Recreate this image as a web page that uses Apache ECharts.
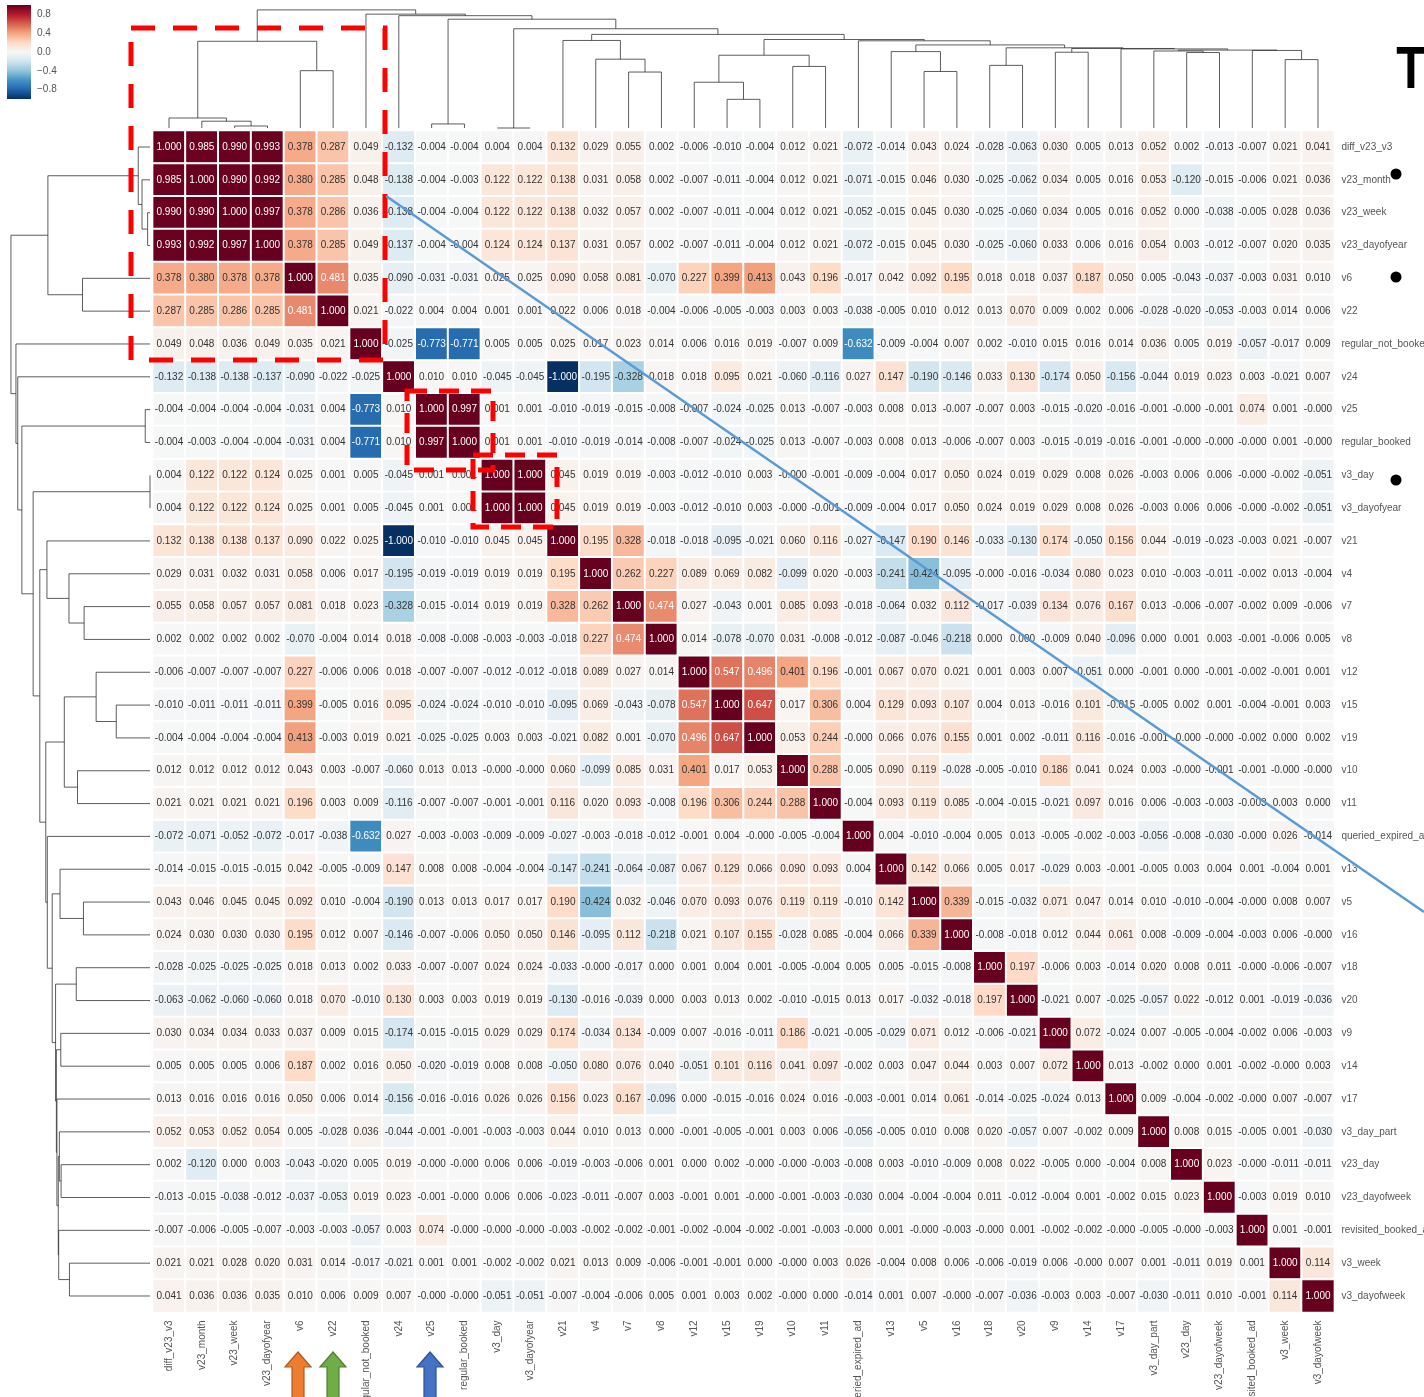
<!DOCTYPE html>
<html>
<head>
<meta charset="utf-8">
<script src="https://cdn.jsdelivr.net/npm/echarts@6/dist/echarts.min.js"></script>
<style>
  html, body { margin: 0; padding: 0; background: #ffffff; }
  #chart { width: 1424px; height: 1397px; }
</style>
</head>
<body>
<div id="chart"></div>
<script>
// Feature names, in clustered order (same order for rows and columns)
const variables = [
  'diff_v23_v3', 'v23_month', 'v23_week', 'v23_dayofyear', 'v6', 'v22',
  'regular_not_booked', 'v24', 'v25', 'regular_booked', 'v3_day', 'v3_dayofyear',
  'v21', 'v4', 'v7', 'v8', 'v12', 'v15', 'v19', 'v10', 'v11', 'queried_expired_ad',
  'v13', 'v5', 'v16', 'v18', 'v20', 'v9', 'v14', 'v17', 'v3_day_part', 'v23_day',
  'v23_dayofweek', 'revisited_booked_ad', 'v3_week', 'v3_dayofweek'
];

// Pearson correlations, one row per feature
const corrRows = [
  [1.000,0.985,0.990,0.993,0.378,0.287,0.049,-0.132,-0.004,-0.004,0.004,0.004,0.132,0.029,0.055,0.002,-0.006,-0.010,-0.004,0.012,0.021,-0.072,-0.014,0.043,0.024,-0.028,-0.063,0.030,0.005,0.013,0.052,0.002,-0.013,-0.007,0.021,0.041],
  [0.985,1.000,0.990,0.992,0.380,0.285,0.048,-0.138,-0.004,-0.003,0.122,0.122,0.138,0.031,0.058,0.002,-0.007,-0.011,-0.004,0.012,0.021,-0.071,-0.015,0.046,0.030,-0.025,-0.062,0.034,0.005,0.016,0.053,-0.120,-0.015,-0.006,0.021,0.036],
  [0.990,0.990,1.000,0.997,0.378,0.286,0.036,-0.138,-0.004,-0.004,0.122,0.122,0.138,0.032,0.057,0.002,-0.007,-0.011,-0.004,0.012,0.021,-0.052,-0.015,0.045,0.030,-0.025,-0.060,0.034,0.005,0.016,0.052,0.000,-0.038,-0.005,0.028,0.036],
  [0.993,0.992,0.997,1.000,0.378,0.285,0.049,-0.137,-0.004,-0.004,0.124,0.124,0.137,0.031,0.057,0.002,-0.007,-0.011,-0.004,0.012,0.021,-0.072,-0.015,0.045,0.030,-0.025,-0.060,0.033,0.006,0.016,0.054,0.003,-0.012,-0.007,0.020,0.035],
  [0.378,0.380,0.378,0.378,1.000,0.481,0.035,-0.090,-0.031,-0.031,0.025,0.025,0.090,0.058,0.081,-0.070,0.227,0.399,0.413,0.043,0.196,-0.017,0.042,0.092,0.195,0.018,0.018,0.037,0.187,0.050,0.005,-0.043,-0.037,-0.003,0.031,0.010],
  [0.287,0.285,0.286,0.285,0.481,1.000,0.021,-0.022,0.004,0.004,0.001,0.001,0.022,0.006,0.018,-0.004,-0.006,-0.005,-0.003,0.003,0.003,-0.038,-0.005,0.010,0.012,0.013,0.070,0.009,0.002,0.006,-0.028,-0.020,-0.053,-0.003,0.014,0.006],
  [0.049,0.048,0.036,0.049,0.035,0.021,1.000,-0.025,-0.773,-0.771,0.005,0.005,0.025,0.017,0.023,0.014,0.006,0.016,0.019,-0.007,0.009,-0.632,-0.009,-0.004,0.007,0.002,-0.010,0.015,0.016,0.014,0.036,0.005,0.019,-0.057,-0.017,0.009],
  [-0.132,-0.138,-0.138,-0.137,-0.090,-0.022,-0.025,1.000,0.010,0.010,-0.045,-0.045,-1.000,-0.195,-0.328,0.018,0.018,0.095,0.021,-0.060,-0.116,0.027,0.147,-0.190,-0.146,0.033,0.130,-0.174,0.050,-0.156,-0.044,0.019,0.023,0.003,-0.021,0.007],
  [-0.004,-0.004,-0.004,-0.004,-0.031,0.004,-0.773,0.010,1.000,0.997,0.001,0.001,-0.010,-0.019,-0.015,-0.008,-0.007,-0.024,-0.025,0.013,-0.007,-0.003,0.008,0.013,-0.007,-0.007,0.003,-0.015,-0.020,-0.016,-0.001,-0.000,-0.001,0.074,0.001,-0.000],
  [-0.004,-0.003,-0.004,-0.004,-0.031,0.004,-0.771,0.010,0.997,1.000,0.001,0.001,-0.010,-0.019,-0.014,-0.008,-0.007,-0.024,-0.025,0.013,-0.007,-0.003,0.008,0.013,-0.006,-0.007,0.003,-0.015,-0.019,-0.016,-0.001,-0.000,-0.000,-0.000,0.001,-0.000],
  [0.004,0.122,0.122,0.124,0.025,0.001,0.005,-0.045,0.001,0.001,1.000,1.000,0.045,0.019,0.019,-0.003,-0.012,-0.010,0.003,-0.000,-0.001,-0.009,-0.004,0.017,0.050,0.024,0.019,0.029,0.008,0.026,-0.003,0.006,0.006,-0.000,-0.002,-0.051],
  [0.004,0.122,0.122,0.124,0.025,0.001,0.005,-0.045,0.001,0.001,1.000,1.000,0.045,0.019,0.019,-0.003,-0.012,-0.010,0.003,-0.000,-0.001,-0.009,-0.004,0.017,0.050,0.024,0.019,0.029,0.008,0.026,-0.003,0.006,0.006,-0.000,-0.002,-0.051],
  [0.132,0.138,0.138,0.137,0.090,0.022,0.025,-1.000,-0.010,-0.010,0.045,0.045,1.000,0.195,0.328,-0.018,-0.018,-0.095,-0.021,0.060,0.116,-0.027,-0.147,0.190,0.146,-0.033,-0.130,0.174,-0.050,0.156,0.044,-0.019,-0.023,-0.003,0.021,-0.007],
  [0.029,0.031,0.032,0.031,0.058,0.006,0.017,-0.195,-0.019,-0.019,0.019,0.019,0.195,1.000,0.262,0.227,0.089,0.069,0.082,-0.099,0.020,-0.003,-0.241,-0.424,-0.095,-0.000,-0.016,-0.034,0.080,0.023,0.010,-0.003,-0.011,-0.002,0.013,-0.004],
  [0.055,0.058,0.057,0.057,0.081,0.018,0.023,-0.328,-0.015,-0.014,0.019,0.019,0.328,0.262,1.000,0.474,0.027,-0.043,0.001,0.085,0.093,-0.018,-0.064,0.032,0.112,-0.017,-0.039,0.134,0.076,0.167,0.013,-0.006,-0.007,-0.002,0.009,-0.006],
  [0.002,0.002,0.002,0.002,-0.070,-0.004,0.014,0.018,-0.008,-0.008,-0.003,-0.003,-0.018,0.227,0.474,1.000,0.014,-0.078,-0.070,0.031,-0.008,-0.012,-0.087,-0.046,-0.218,0.000,0.000,-0.009,0.040,-0.096,0.000,0.001,0.003,-0.001,-0.006,0.005],
  [-0.006,-0.007,-0.007,-0.007,0.227,-0.006,0.006,0.018,-0.007,-0.007,-0.012,-0.012,-0.018,0.089,0.027,0.014,1.000,0.547,0.496,0.401,0.196,-0.001,0.067,0.070,0.021,0.001,0.003,0.007,-0.051,0.000,-0.001,0.000,-0.001,-0.002,-0.001,0.001],
  [-0.010,-0.011,-0.011,-0.011,0.399,-0.005,0.016,0.095,-0.024,-0.024,-0.010,-0.010,-0.095,0.069,-0.043,-0.078,0.547,1.000,0.647,0.017,0.306,0.004,0.129,0.093,0.107,0.004,0.013,-0.016,0.101,-0.015,-0.005,0.002,0.001,-0.004,-0.001,0.003],
  [-0.004,-0.004,-0.004,-0.004,0.413,-0.003,0.019,0.021,-0.025,-0.025,0.003,0.003,-0.021,0.082,0.001,-0.070,0.496,0.647,1.000,0.053,0.244,-0.000,0.066,0.076,0.155,0.001,0.002,-0.011,0.116,-0.016,-0.001,-0.000,-0.000,-0.002,0.000,0.002],
  [0.012,0.012,0.012,0.012,0.043,0.003,-0.007,-0.060,0.013,0.013,-0.000,-0.000,0.060,-0.099,0.085,0.031,0.401,0.017,0.053,1.000,0.288,-0.005,0.090,0.119,-0.028,-0.005,-0.010,0.186,0.041,0.024,0.003,-0.000,-0.001,-0.001,-0.000,-0.000],
  [0.021,0.021,0.021,0.021,0.196,0.003,0.009,-0.116,-0.007,-0.007,-0.001,-0.001,0.116,0.020,0.093,-0.008,0.196,0.306,0.244,0.288,1.000,-0.004,0.093,0.119,0.085,-0.004,-0.015,-0.021,0.097,0.016,0.006,-0.003,-0.003,-0.003,0.003,0.000],
  [-0.072,-0.071,-0.052,-0.072,-0.017,-0.038,-0.632,0.027,-0.003,-0.003,-0.009,-0.009,-0.027,-0.003,-0.018,-0.012,-0.001,0.004,-0.000,-0.005,-0.004,1.000,0.004,-0.010,-0.004,0.005,0.013,-0.005,-0.002,-0.003,-0.056,-0.008,-0.030,-0.000,0.026,-0.014],
  [-0.014,-0.015,-0.015,-0.015,0.042,-0.005,-0.009,0.147,0.008,0.008,-0.004,-0.004,-0.147,-0.241,-0.064,-0.087,0.067,0.129,0.066,0.090,0.093,0.004,1.000,0.142,0.066,0.005,0.017,-0.029,0.003,-0.001,-0.005,0.003,0.004,0.001,-0.004,0.001],
  [0.043,0.046,0.045,0.045,0.092,0.010,-0.004,-0.190,0.013,0.013,0.017,0.017,0.190,-0.424,0.032,-0.046,0.070,0.093,0.076,0.119,0.119,-0.010,0.142,1.000,0.339,-0.015,-0.032,0.071,0.047,0.014,0.010,-0.010,-0.004,-0.000,0.008,0.007],
  [0.024,0.030,0.030,0.030,0.195,0.012,0.007,-0.146,-0.007,-0.006,0.050,0.050,0.146,-0.095,0.112,-0.218,0.021,0.107,0.155,-0.028,0.085,-0.004,0.066,0.339,1.000,-0.008,-0.018,0.012,0.044,0.061,0.008,-0.009,-0.004,-0.003,0.006,-0.000],
  [-0.028,-0.025,-0.025,-0.025,0.018,0.013,0.002,0.033,-0.007,-0.007,0.024,0.024,-0.033,-0.000,-0.017,0.000,0.001,0.004,0.001,-0.005,-0.004,0.005,0.005,-0.015,-0.008,1.000,0.197,-0.006,0.003,-0.014,0.020,0.008,0.011,-0.000,-0.006,-0.007],
  [-0.063,-0.062,-0.060,-0.060,0.018,0.070,-0.010,0.130,0.003,0.003,0.019,0.019,-0.130,-0.016,-0.039,0.000,0.003,0.013,0.002,-0.010,-0.015,0.013,0.017,-0.032,-0.018,0.197,1.000,-0.021,0.007,-0.025,-0.057,0.022,-0.012,0.001,-0.019,-0.036],
  [0.030,0.034,0.034,0.033,0.037,0.009,0.015,-0.174,-0.015,-0.015,0.029,0.029,0.174,-0.034,0.134,-0.009,0.007,-0.016,-0.011,0.186,-0.021,-0.005,-0.029,0.071,0.012,-0.006,-0.021,1.000,0.072,-0.024,0.007,-0.005,-0.004,-0.002,0.006,-0.003],
  [0.005,0.005,0.005,0.006,0.187,0.002,0.016,0.050,-0.020,-0.019,0.008,0.008,-0.050,0.080,0.076,0.040,-0.051,0.101,0.116,0.041,0.097,-0.002,0.003,0.047,0.044,0.003,0.007,0.072,1.000,0.013,-0.002,0.000,0.001,-0.002,-0.000,0.003],
  [0.013,0.016,0.016,0.016,0.050,0.006,0.014,-0.156,-0.016,-0.016,0.026,0.026,0.156,0.023,0.167,-0.096,0.000,-0.015,-0.016,0.024,0.016,-0.003,-0.001,0.014,0.061,-0.014,-0.025,-0.024,0.013,1.000,0.009,-0.004,-0.002,-0.000,0.007,-0.007],
  [0.052,0.053,0.052,0.054,0.005,-0.028,0.036,-0.044,-0.001,-0.001,-0.003,-0.003,0.044,0.010,0.013,0.000,-0.001,-0.005,-0.001,0.003,0.006,-0.056,-0.005,0.010,0.008,0.020,-0.057,0.007,-0.002,0.009,1.000,0.008,0.015,-0.005,0.001,-0.030],
  [0.002,-0.120,0.000,0.003,-0.043,-0.020,0.005,0.019,-0.000,-0.000,0.006,0.006,-0.019,-0.003,-0.006,0.001,0.000,0.002,-0.000,-0.000,-0.003,-0.008,0.003,-0.010,-0.009,0.008,0.022,-0.005,0.000,-0.004,0.008,1.000,0.023,-0.000,-0.011,-0.011],
  [-0.013,-0.015,-0.038,-0.012,-0.037,-0.053,0.019,0.023,-0.001,-0.000,0.006,0.006,-0.023,-0.011,-0.007,0.003,-0.001,0.001,-0.000,-0.001,-0.003,-0.030,0.004,-0.004,-0.004,0.011,-0.012,-0.004,0.001,-0.002,0.015,0.023,1.000,-0.003,0.019,0.010],
  [-0.007,-0.006,-0.005,-0.007,-0.003,-0.003,-0.057,0.003,0.074,-0.000,-0.000,-0.000,-0.003,-0.002,-0.002,-0.001,-0.002,-0.004,-0.002,-0.001,-0.003,-0.000,0.001,-0.000,-0.003,-0.000,0.001,-0.002,-0.002,-0.000,-0.005,-0.000,-0.003,1.000,0.001,-0.001],
  [0.021,0.021,0.028,0.020,0.031,0.014,-0.017,-0.021,0.001,0.001,-0.002,-0.002,0.021,0.013,0.009,-0.006,-0.001,-0.001,0.000,-0.000,0.003,0.026,-0.004,0.008,0.006,-0.006,-0.019,0.006,-0.000,0.007,0.001,-0.011,0.019,0.001,1.000,0.114],
  [0.041,0.036,0.036,0.035,0.010,0.006,0.009,0.007,-0.000,-0.000,-0.051,-0.051,-0.007,-0.004,-0.006,0.005,0.001,0.003,0.002,-0.000,0.000,-0.014,0.001,0.007,-0.000,-0.007,-0.036,-0.003,0.003,-0.007,-0.030,-0.011,0.010,-0.001,0.114,1.000]
];

// Colour-bar tick values
const colorbarTicks = [-0.8, -0.4, 0.0, 0.4, 0.8];

// RdBu reversed (blue = -1 ... red = +1)
const RDBU_R = ['#053061', '#2166ac', '#4393c3', '#92c5de', '#d1e5f0', '#f7f7f7',
                '#fddbc7', '#f4a582', '#d6604d', '#b2182b', '#67001f'];

const FONT = '"Liberation Sans", Arial, Helvetica, sans-serif';
const N = variables.length;

function hexToRgb(h) {
  return [parseInt(h.slice(1, 3), 16), parseInt(h.slice(3, 5), 16), parseInt(h.slice(5, 7), 16)];
}
function cmap(v) {
  const t = Math.max(0, Math.min(1, (v + 1) / 2)) * (RDBU_R.length - 1);
  const i = Math.min(Math.floor(t), RDBU_R.length - 2);
  const f = t - i;
  const a = hexToRgb(RDBU_R[i]), b = hexToRgb(RDBU_R[i + 1]);
  return a.map((c, k) => c + (b[k] - c) * f);
}
function luminance(rgb) {
  const lin = rgb.map(c => {
    c /= 255;
    return c <= 0.03928 ? c / 12.92 : Math.pow((c + 0.055) / 1.055, 2.4);
  });
  return 0.2126 * lin[0] + 0.7152 * lin[1] + 0.0722 * lin[2];
}
function fmt(v) {
  const neg = v < 0 || Object.is(v, -0);
  return (neg ? '-' : '') + Math.abs(v).toFixed(3);
}

// Average-linkage (UPGMA) clustering of the correlation rows, euclidean metric.
// Returns merges as [childA, childB, distance]; ids >= N are earlier merges.
function averageLinkage(rows) {
  const n = rows.length;
  const euclid = (a, b) => Math.sqrt(a.reduce((s, v, k) => s + (v - b[k]) * (v - b[k]), 0));
  const size = [], dm = [];
  for (let i = 0; i < n; i++) {
    size[i] = 1;
    dm[i] = [];
    for (let j = 0; j < n; j++) dm[i][j] = euclid(rows[i], rows[j]);
  }
  let active = rows.map((_, i) => i);
  const Z = [];
  for (let step = 0; step < n - 1; step++) {
    let best = Infinity, bi = -1, bj = -1;
    for (let x = 0; x < active.length; x++) {
      for (let y = x + 1; y < active.length; y++) {
        const a = active[x], b = active[y];
        if (dm[a][b] < best) { best = dm[a][b]; bi = a; bj = b; }
      }
    }
    const id = n + step;
    size[id] = size[bi] + size[bj];
    dm[id] = [];
    active = active.filter(c => c !== bi && c !== bj);
    for (const c of active) {
      const d = (size[bi] * dm[bi][c] + size[bj] * dm[bj][c]) / size[id];
      dm[id][c] = d;
      dm[c][id] = d;
    }
    active.push(id);
    Z.push([Math.min(bi, bj), Math.max(bi, bj), best]);
  }
  return Z;
}
const linkage = averageLinkage(corrRows);

// Dendrogram U-links: [posA, posB, heightA, heightB, mergeHeight]
function dendroSegments() {
  const pos = [], hgt = [];
  for (let i = 0; i < N; i++) { pos[i] = i + 0.5; hgt[i] = 0; }
  return linkage.map((m, k) => {
    const [a, b, h] = m;
    const id = N + k;
    pos[id] = (pos[a] + pos[b]) / 2;
    hgt[id] = h;
    return [pos[a], pos[b], hgt[a], hgt[b], h];
  });
}
const segments = dendroSegments();
const maxH = Math.max(...linkage.map(m => m[2]));

// Heatmap cells
const cells = [];
for (let r = 0; r < N; r++) {
  for (let c = 0; c < N; c++) {
    const v = corrRows[r][c];
    cells.push({
      value: [c, r, v],
      label: { color: luminance(cmap(v)) > 0.408 ? '#333333' : '#ffffff' }
    });
  }
}

const GRID = { left: 152.6, top: 130.6, size: 1181.8 };
const LINE_COLOR = '#333333';

const chart = echarts.init(document.getElementById('chart'), null, { renderer: 'canvas' });

// Annotation overlay (highlight boxes, pointers, marks)
function arrow(cx, top, fill, stroke) {
  return {
    type: 'polygon', z: 100,
    shape: { points: [[cx, top], [cx + 13, top + 15], [cx + 6, top + 15], [cx + 6, 1402],
                      [cx - 6, 1402], [cx - 6, top + 15], [cx - 13, top + 15]] },
    style: { fill: fill, stroke: stroke, lineWidth: 1.2 }
  };
}
const redDash = { fill: 'none', stroke: '#ff0000', lineWidth: 5, lineDash: [24, 18] };
const redDashSmall = { fill: 'none', stroke: '#ff0000', lineWidth: 5, lineDash: [20, 12] };
const annotations = [
  { type: 'rect', z: 100, shape: { x: 131, y: 28, width: 254, height: 332 }, style: redDash },
  { type: 'rect', z: 100, shape: { x: 407, y: 391, width: 86, height: 79 }, style: redDashSmall },
  { type: 'rect', z: 100, shape: { x: 473, y: 455, width: 84, height: 72 }, style: redDashSmall },
  { type: 'line', z: 100, shape: { x1: 386, y1: 196, x2: 1424, y2: 912 }, style: { stroke: '#5b9bd5', lineWidth: 2.5 } },
  { type: 'circle', z: 100, shape: { cx: 1396, cy: 174, r: 5.5 }, style: { fill: '#000' } },
  { type: 'circle', z: 100, shape: { cx: 1396, cy: 277, r: 5.5 }, style: { fill: '#000' } },
  { type: 'circle', z: 100, shape: { cx: 1396, cy: 480, r: 5.5 }, style: { fill: '#000' } },
  { type: 'text', z: 100, x: 1411, y: 41, scaleX: 0.8, style: { text: 'T', fontSize: 60, fontWeight: 'bold', fontFamily: FONT, fill: '#000', align: 'center', verticalAlign: 'top' } },
  arrow(298, 1352, '#ed7d31', '#ae5a21'),
  arrow(333, 1352, '#70ad47', '#507e32'),
  arrow(430, 1352, '#4472c4', '#2f528f')
];

function linkRenderer(horizontal) {
  return (params, api) => {
    const xa = api.value(0), xb = api.value(1), ha = api.value(2), hb = api.value(3), h = api.value(4);
    const pts = horizontal
      ? [[xa, ha], [xa, h], [xb, h], [xb, hb]]
      : [[ha, xa], [h, xa], [h, xb], [hb, xb]];
    return {
      type: 'polyline',
      shape: { points: pts.map(p => api.coord(p)) },
      style: { stroke: LINE_COLOR, lineWidth: 0.8, fill: null }
    };
  };
}

const option = {
  animation: false,
  backgroundColor: '#ffffff',
  textStyle: { fontFamily: FONT },
  grid: [
    { left: GRID.left, top: GRID.top, width: GRID.size, height: GRID.size, containLabel: false, outerBoundsMode: 'none' },
    { left: 7, top: 5, width: 24, height: 94, outerBoundsMode: 'none' },
    { left: GRID.left, top: 4, width: GRID.size, height: 124, outerBoundsMode: 'none' },
    { left: 4, top: GRID.top, width: 146, height: GRID.size, outerBoundsMode: 'none' }
  ],
  xAxis: [
    {
      gridIndex: 0, type: 'category', data: variables, position: 'bottom',
      axisLine: { show: false }, axisTick: { show: false }, splitLine: { show: false },
      axisLabel: { rotate: 90, interval: 0, fontSize: 10, color: '#555', margin: 8, fontFamily: FONT }
    },
    { gridIndex: 1, type: 'value', min: 0, max: 1, show: false },
    { gridIndex: 2, type: 'value', min: 0, max: N, show: false },
    { gridIndex: 3, type: 'value', min: 0, max: maxH * 1.05, inverse: true, show: false }
  ],
  yAxis: [
    {
      gridIndex: 0, type: 'category', data: variables, position: 'right', inverse: true,
      axisLine: { show: false }, axisTick: { show: false }, splitLine: { show: false },
      axisLabel: { interval: 0, fontSize: 10, color: '#555', margin: 7, fontFamily: FONT }
    },
    {
      gridIndex: 1, type: 'value', min: -1, max: 1, position: 'right',
      axisLine: { show: false }, axisTick: { show: false }, splitLine: { show: false },
      axisLabel: {
        customValues: colorbarTicks, fontSize: 10, color: '#555', margin: 6, fontFamily: FONT,
        formatter: v => (v < 0 ? '\u2212' : '') + Math.abs(v).toFixed(1)
      }
    },
    { gridIndex: 2, type: 'value', min: 0, max: maxH * 1.05, show: false },
    { gridIndex: 3, type: 'value', min: 0, max: N, inverse: true, show: false }
  ],
  visualMap: {
    type: 'continuous', show: false, min: -1, max: 1, dimension: 2, seriesIndex: 0,
    inRange: { color: RDBU_R }
  },
  series: [
    {
      type: 'heatmap', xAxisIndex: 0, yAxisIndex: 0, data: cells, progressive: 0,
      itemStyle: { borderColor: '#ffffff', borderWidth: 2 },
      label: {
        show: true, fontSize: 10, fontFamily: FONT,
        formatter: p => fmt(corrRows[p.value[1]][p.value[0]])
      },
      emphasis: { disabled: true }
    },
    {
      type: 'custom', xAxisIndex: 1, yAxisIndex: 1, data: [[0]], silent: true, clip: false,
      renderItem: (params, api) => {
        const p0 = api.coord([0, 1]), p1 = api.coord([1, -1]);
        const stops = RDBU_R.slice().reverse().map((c, i) => ({ offset: i / (RDBU_R.length - 1), color: c }));
        return {
          type: 'rect',
          shape: { x: p0[0], y: p0[1], width: p1[0] - p0[0], height: p1[1] - p0[1] },
          style: { fill: new echarts.graphic.LinearGradient(0, 0, 0, 1, stops) }
        };
      }
    },
    {
      type: 'custom', xAxisIndex: 2, yAxisIndex: 2, data: segments, silent: true, clip: false,
      renderItem: linkRenderer(true)
    },
    {
      type: 'custom', xAxisIndex: 3, yAxisIndex: 3, data: segments, silent: true, clip: false,
      renderItem: linkRenderer(false)
    }
  ],
  graphic: { elements: annotations }
};

chart.setOption(option);
</script>
</body>
</html>
